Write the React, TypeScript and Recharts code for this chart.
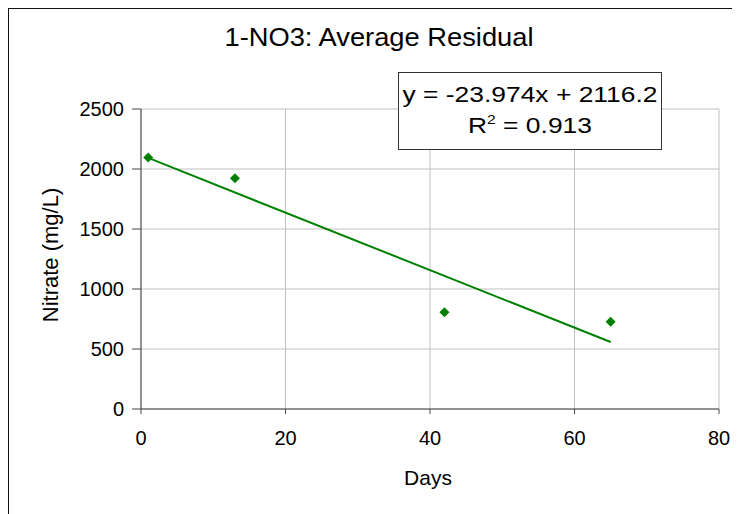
import { ComposedChart, Line, Scatter, XAxis, YAxis, CartesianGrid } from "recharts";

const days = [1, 13, 42, 65];
const nitrate = [2095, 1922, 807, 728];

const trendDays = [1, 65];
const trendNitrate = [2092.2, 557.9];

const xTicks = [0, 20, 40, 60, 80];
const yTicks = [0, 500, 1000, 1500, 2000, 2500];

const points = days.map((d, i) => ({ x: d, y: nitrate[i] }));
const trend = trendDays.map((d, i) => ({ x: d, y: trendNitrate[i] }));

const font = '"Liberation Sans", Arial, sans-serif';
const green = "#008000";

function Diamond(props: any) {
  const { cx, cy } = props;
  const r = 5;
  return (
    <polygon
      points={`${cx},${cy - r} ${cx + r},${cy} ${cx},${cy + r} ${cx - r},${cy}`}
      fill={green}
    />
  );
}

export default function App() {
  return (
    <div
      style={{
        position: "relative",
        width: 733,
        height: 507,
        margin: "-1px 0 0 -1px",
        borderTop: "2px solid #111",
        borderLeft: "2px solid #111",
        boxSizing: "border-box",
        fontFamily: font,
      }}
    >
      <div style={{ position: "absolute", left: -9, top: -9, width: 740, height: 514 }}>
        <ComposedChart width={740} height={514} margin={{ top: 109, right: 21, bottom: 65, left: 81 }}>
          <CartesianGrid stroke="#c0c0c0" strokeWidth={1} />
          <XAxis
            type="number"
            dataKey="x"
            domain={[0, 80]}
            ticks={xTicks}
            height={40}
            tickSize={5}
            tickMargin={17}
            stroke="#444"
            tick={{ fill: "#000", fontSize: 20, fontFamily: font }}
            allowDataOverflow
          />
          <YAxis
            type="number"
            dataKey="y"
            domain={[0, 2500]}
            ticks={yTicks}
            width={60}
            tickSize={9}
            tickMargin={8}
            stroke="#444"
            tick={{ fill: "#000", fontSize: 20, fontFamily: font }}
            allowDataOverflow
          />
          <Line
            data={trend}
            dataKey="y"
            type="linear"
            stroke={green}
            strokeWidth={2}
            dot={false}
            isAnimationActive={false}
          />
          <Scatter data={points} dataKey="y" shape={Diamond} isAnimationActive={false} />
        </ComposedChart>

        <div
          style={{
            position: "absolute",
            left: 379,
            top: 50,
            transform: "translate(-50%, -100%)",
            fontSize: 26,
            lineHeight: "26px",
            whiteSpace: "nowrap",
          }}
        >
          <span style={{ display: "inline-block", transform: "scaleX(1.05)" }}>1-NO3: Average Residual</span>
        </div>

        <div
          style={{
            position: "absolute",
            left: 428,
            top: 478,
            transform: "translate(-50%, -50%)",
            fontSize: 21,
            whiteSpace: "nowrap",
          }}
        >
          Days
        </div>

        <div
          style={{
            position: "absolute",
            left: 51,
            top: 255,
            transform: "translate(-50%, -50%) rotate(-90deg)",
            fontSize: 22,
            whiteSpace: "nowrap",
          }}
        >
          Nitrate (mg/L)
        </div>

        <div
          style={{
            position: "absolute",
            left: 398,
            top: 72,
            width: 264,
            height: 78,
            boxSizing: "border-box",
            border: "1.5px solid #333",
            background: "#fff",
            textAlign: "center",
            fontSize: 22,
            lineHeight: "31px",
            paddingTop: 6,
          }}
        >
          <div style={{ transform: "scaleX(1.2)", whiteSpace: "nowrap" }}>y = -23.974x + 2116.2</div>
          <div style={{ transform: "scaleX(1.2)", whiteSpace: "nowrap" }}>
            R<sup style={{ fontSize: 13, lineHeight: 0, verticalAlign: "9px" }}>2</sup> = 0.913
          </div>
        </div>
      </div>
    </div>
  );
}
